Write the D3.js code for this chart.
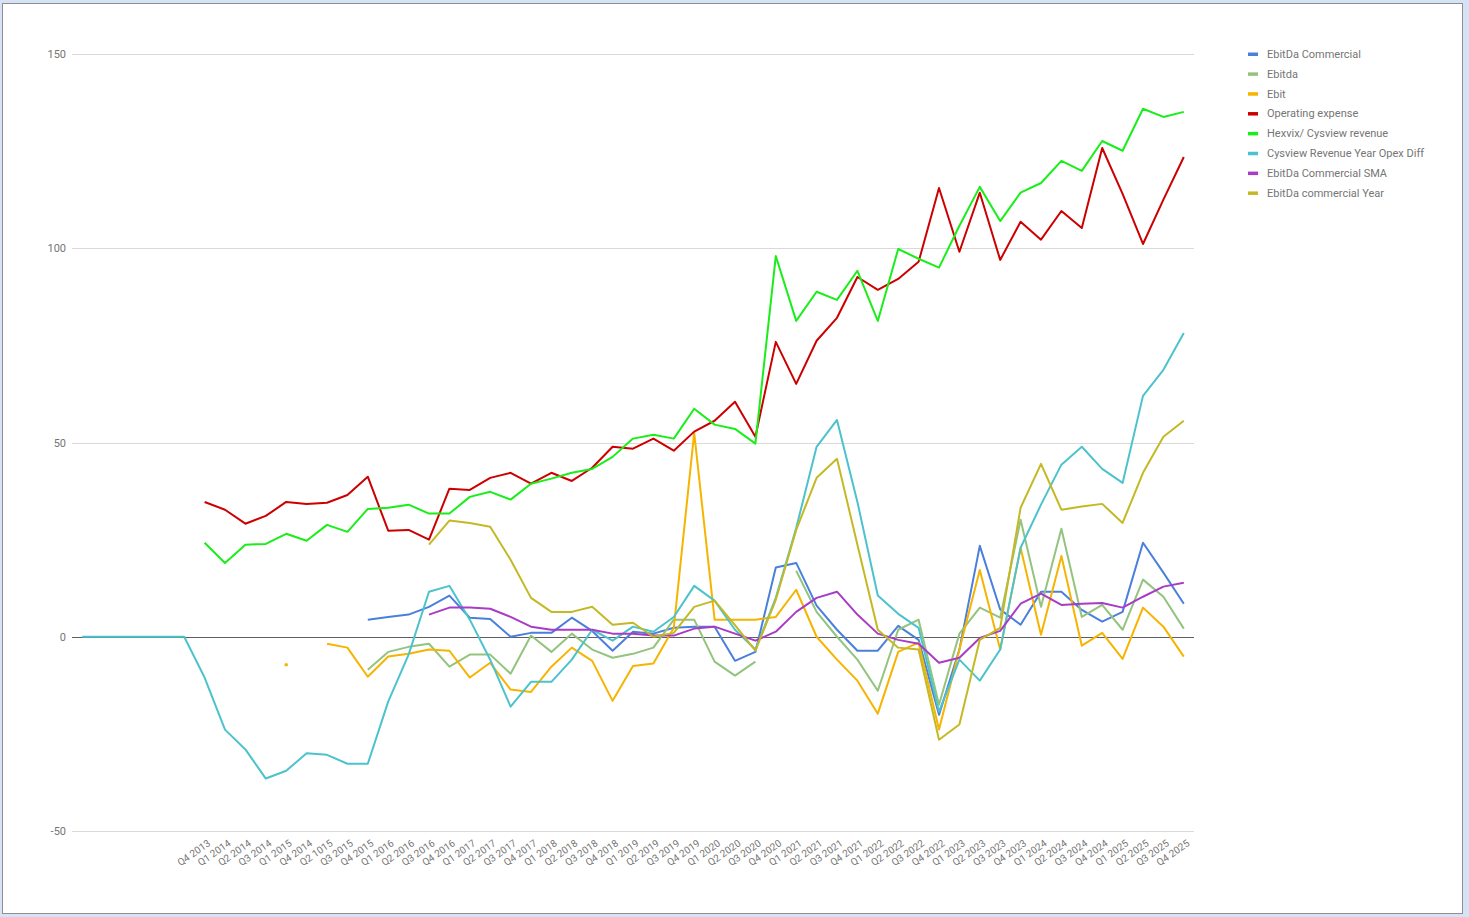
<!DOCTYPE html>
<html>
<head>
<meta charset="utf-8">
<script src="https://cdn.jsdelivr.net/npm/d3@7"></script>
<style>
  html, body { margin: 0; padding: 0; background: #fff; }
  svg { display: block; font-family: Roboto, "Noto Sans", Arial, sans-serif; }
</style>
</head>
<body>
<svg id="chart" width="1469" height="917"></svg>
<script>
// ---------- DATA ----------
const categories = ["", "", "", "", "", "",
  "Q4 2013", "Q1 2014", "Q2 2014", "Q3 2014", "Q1 2015", "Q4 2014", "Q2 1015", "Q3 2015", "Q4 2015",
  "Q1 2016", "Q2 2016", "Q3 2016", "Q4 2016", "Q1 2017", "Q2 2017", "Q3 2017", "Q4 2017",
  "Q1 2018", "Q2 2018", "Q3 2018", "Q4 2018", "Q1 2019", "Q2 2019", "Q3 2019", "Q4 2019",
  "Q1 2020", "Q2 2020", "Q3 2020", "Q4 2020", "Q1 2021", "Q2 2021", "Q3 2021", "Q4 2021",
  "Q1 2022", "Q2 2022", "Q3 2022", "Q4 2022", "Q1 2023", "Q2 2023", "Q3 2023", "Q4 2023",
  "Q1 2024", "Q2 2024", "Q3 2024", "Q4 2024", "Q1 2025", "Q2 2025", "Q3 2025", "Q4 2025"];

const yTicks = [-50, 0, 50, 100, 150];

const ebitdaCommercial = [null, null, null, null, null, null, null, null, null, null, null, null, null, null,
  4.4, 5.1, 5.7, 7.7, 10.6, 4.9, 4.6, 0, 1.0, 1.0, 4.9, 1.5, -3.6, 1.3, 0.8, 2.3, 2.6, 2.6, -6.2, -3.9,
  17.8, 19.0, 8.0, 1.8, -3.6, -3.6, 2.8, -0.8, -20.1, -3.3, 23.4, 7.0, 3.1, 11.6, 11.6, 6.9, 3.9, 6.4, 24.2, 16.5, 8.5];

const ebitda = [null, null, null, null, null, null, null, null, null, null, null, null, null, null,
  -8.5, -3.9, -2.6, -1.8, -7.7, -4.6, -4.6, -9.5, 0.3, -3.9, 0.8, -3.3, -5.4, -4.4, -2.8, 4.4, 4.4, -6.4, -10.0, -6.4,
  null, 17.0, 6.4, 0, -5.9, -13.9, 1.8, 4.4, -17.5, 0.8, 7.5, 4.9, 30.1, 7.7, 27.8, 5.1, 8.2, 1.8, 14.7, 10.3, 2.1];

const ebit = [null, null, null, null, null, null, null, null, null, null,
  -7.2, null, -1.8, -2.8, -10.3, -5.1, -4.4, -3.3, -3.6, -10.5, -6.7, -13.6, -14.2, -7.7, -2.8, -6.2, -16.5, -7.5, -6.9, 2.3,
  52.5, 4.4, 4.4, 4.4, 5.1, 12.1, 0, -5.9, -11.3, -19.8, -3.9, -1.5, -23.9, -3.3, 17.2, -3.3, 22.9, 0.5, 20.8, -2.3, 1.0, -5.7, 7.5, 2.6, -5.1];

const operatingExpense = [null, null, null, null, null, null,
  34.7, 32.7, 29.1, 31.1, 34.7, 34.2, 34.5, 36.5, 41.2, 27.3, 27.5, 25.0, 38.1, 37.8, 40.9, 42.2, 39.4, 42.2, 40.1, 43.5,
  48.9, 48.4, 51.0, 47.9, 52.8, 55.6, 60.5, 51.5, 75.9, 65.1, 76.2, 82.1, 92.6, 89.3, 92.1, 96.5, 115.5, 99.1, 114.3, 97.0,
  106.8, 102.2, 109.6, 105.2, 125.8, 114.0, 101.1, 112.5, 123.5];

const cysviewRevenue = [null, null, null, null, null, null,
  24.2, 19.0, 23.7, 23.9, 26.5, 24.7, 28.8, 27.0, 32.9, 33.2, 34.0, 31.7, 31.7, 36.0, 37.3, 35.3, 39.4, 40.7, 42.2, 43.2,
  46.3, 51.0, 52.0, 51.0, 58.7, 54.6, 53.5, 49.7, 98.0, 81.3, 88.8, 86.7, 94.2, 81.3, 99.8, 97.3, 95.0, 105.8, 115.8, 107.0,
  114.3, 116.8, 122.5, 119.9, 127.6, 125.1, 135.9, 133.8, 135.1];

const cysviewOpexDiff = [0, 0, 0, 0, 0, 0,
  -10.5, -23.9, -29.0, -36.5, -34.5, -30.0, -30.4, -32.7, -32.7, -16.7, -4.6, 11.6, 13.1, 4.4, -5.9, -18.0, -11.6, -11.6,
  -5.9, 1.8, -1.0, 2.6, 1.3, 5.1, 13.1, 9.3, 1.8, -3.3, 10.0, 28.0, 48.9, 55.8, 34.7, 10.6, 5.9, 2.3, -19.3, -5.9, -11.3,
  -3.3, 22.9, 34.0, 44.3, 48.9, 43.2, 39.6, 62.0, 68.7, 78.2];

const ebitdaCommercialSMA = [null, null, null, null, null, null, null, null, null, null, null, null, null, null, null, null, null,
  5.7, 7.5, 7.5, 7.2, 5.1, 2.6, 1.8, 1.8, 1.8, 0.8, 0.8, 0.3, 0.3, 2.1, 2.6, 0.8, -1.0, 1.3, 6.4, 10.0, 11.6, 5.7, 0.8,
  -0.8, -1.8, -6.7, -5.4, -0.3, 1.5, 8.5, 11.1, 8.2, 8.5, 8.7, 7.5, 10.3, 12.9, 13.9];

const ebitdaCommercialYear = [null, null, null, null, null, null, null, null, null, null, null, null, null, null, null, null, null,
  23.7, 29.9, 29.3, 28.3, 19.8, 10.0, 6.4, 6.4, 7.7, 3.1, 3.6, 0, 1.0, 7.7, 9.3, 3.0, -3.6, 9.5, 27.5, 40.9, 45.8, 23.7,
  1.8, -2.8, -3.3, -26.5, -22.6, -0.8, 2.3, 33.2, 44.5, 32.7, 33.5, 34.2, 29.3, 42.2, 51.5, 55.6];

const seriesNames = ["EbitDa Commercial", "Ebitda", "Ebit", "Operating expense", "Hexvix/ Cysview revenue",
  "Cysview Revenue Year Opex Diff", "EbitDa Commercial SMA", "EbitDa commercial Year"];
const seriesColors = ["#4a7fdc", "#93c47d", "#f6b400", "#cc0000", "#1aee1a", "#4cc3cc", "#a93cc6", "#c4b924"];
const seriesValues = [ebitdaCommercial, ebitda, ebit, operatingExpense, cysviewRevenue,
  cysviewOpexDiff, ebitdaCommercialSMA, ebitdaCommercialYear];

// ---------- DRAW ----------
const svg = d3.select("#chart");
const W = 1469, H = 917;

// spreadsheet background behind the chart
svg.append("rect").attr("x", 0).attr("y", 0).attr("width", W).attr("height", H).attr("fill", "#d6e2f5");
svg.append("rect").attr("x", 2.5).attr("y", 3.5).attr("width", 1460).attr("height", 910)
  .attr("fill", "#ffffff").attr("stroke", "#8f8f8f").attr("stroke-width", 1);

const plot = { left: 72, right: 1194, top: 54, bottom: 831 };

const x = d3.scalePoint()
  .domain(d3.range(categories.length))
  .range([plot.left, plot.right])
  .padding(0.5);

const y = d3.scaleLinear()
  .domain([-50, 150])
  .range([plot.bottom, plot.top]);

// gridlines
svg.append("g")
  .selectAll("line")
  .data(yTicks.filter(t => t !== 0))
  .join("line")
  .attr("x1", plot.left).attr("x2", plot.right)
  .attr("y1", d => Math.round(y(d)) + 0.5).attr("y2", d => Math.round(y(d)) + 0.5)
  .attr("stroke", "#d9d9d9").attr("stroke-width", 1);

// y axis labels
const yAxis = d3.axisLeft(y).tickValues(yTicks).tickSize(0).tickPadding(6)
  .tickFormat(d => d < 0 ? "-" + Math.abs(d) : String(d));
const gy = svg.append("g").attr("transform", `translate(${plot.left},0)`).call(yAxis);
gy.select(".domain").remove();
gy.selectAll("text").attr("fill", "#757575").attr("font-size", 11).attr("font-family", "Roboto, sans-serif");

// x axis labels (slanted)
const xAxis = d3.axisBottom(x).tickSize(0).tickFormat(i => categories[i]);
const gx = svg.append("g").attr("transform", `translate(0,${plot.bottom})`).call(xAxis);
gx.select(".domain").remove();
gx.selectAll(".tick text")
  .attr("fill", "#757575").attr("font-size", 10).attr("font-family", "Roboto, sans-serif")
  .attr("text-anchor", "end")
  .attr("y", 0).attr("dy", "0.35em")
  .attr("transform", "translate(4,11) rotate(-35)");

// lines
const line = d3.line()
  .defined(d => d != null)
  .x((d, i) => x(i))
  .y(d => y(d));

const gLines = svg.append("g");
seriesValues.forEach((vals, s) => {
  gLines.append("path")
    .datum(vals)
    .attr("fill", "none")
    .attr("stroke", seriesColors[s])
    .attr("stroke-width", 2)
    .attr("stroke-linejoin", "round")
    .attr("d", line);
  // isolated points
  const iso = vals.map((v, i) => ({ v, i }))
    .filter(p => p.v != null && (p.i === 0 || vals[p.i - 1] == null) && (p.i === vals.length - 1 || vals[p.i + 1] == null));
  gLines.selectAll(null).data(iso).join("circle")
    .attr("cx", p => x(p.i)).attr("cy", p => y(p.v)).attr("r", 1.8)
    .attr("fill", seriesColors[s]);
});

// baseline at zero
svg.append("line")
  .attr("x1", plot.left).attr("x2", plot.right)
  .attr("y1", Math.round(y(0)) + 0.5).attr("y2", Math.round(y(0)) + 0.5)
  .attr("stroke", "#5f5f5f").attr("stroke-width", 1);
gLines.raise();

// legend
const legend = svg.append("g").attr("transform", "translate(1248,54)");
const items = legend.selectAll("g").data(seriesNames).join("g")
  .attr("transform", (d, i) => `translate(0,${i * 19.85})`);
items.append("rect").attr("x", 0).attr("y", -1.5).attr("width", 10).attr("height", 3.5)
  .attr("fill", (d, i) => seriesColors[i]);
items.append("text").attr("x", 19).attr("y", 0).attr("dy", "0.35em")
  .attr("font-size", 11).attr("font-family", "Roboto, sans-serif").attr("fill", "#757575")
  .text(d => d);
</script>
</body>
</html>
